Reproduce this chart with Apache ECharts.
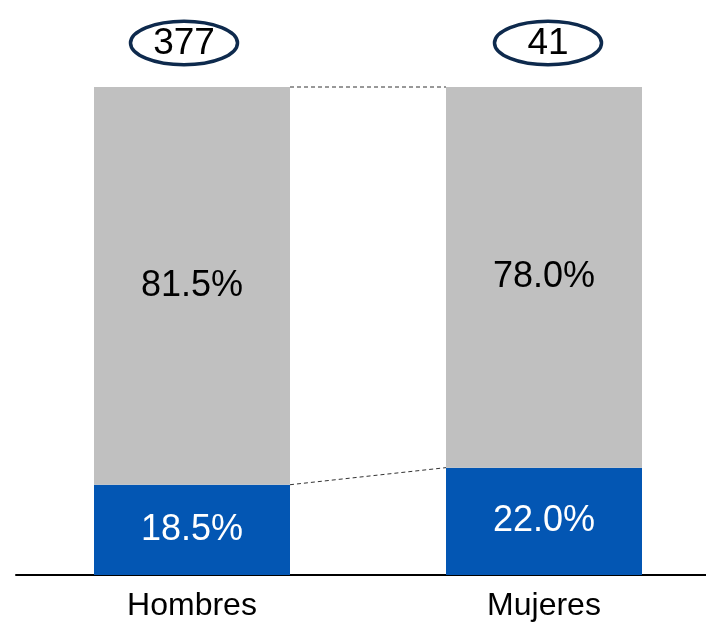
<!DOCTYPE html>
<html>
<head>
<meta charset="utf-8">
<script src="https://cdn.jsdelivr.net/npm/echarts@6/dist/echarts.min.js"></script>
<style>html,body{margin:0;padding:0;background:#fff;}#c{width:706px;height:623px;}</style>
</head>
<body>
<div id="c"></div>
<script>
const categories = ['Hombres', 'Mujeres'];
const bluePct = [18.5, 22.0];
const grayPct = [81.5, 78.0];
const totals = [377, 41];

const FONT = '"Liberation Sans", Arial, sans-serif';
const BAR_W = 196;
const ellipseDx = [-8, 4];

const chart = echarts.init(document.getElementById('c'), null, {renderer: 'canvas'});

const connectors = [];
for (let i = 0; i < categories.length - 1; i++) {
  connectors.push([i, bluePct[i], bluePct[i + 1]]);
  connectors.push([i, bluePct[i] + grayPct[i], bluePct[i + 1] + grayPct[i + 1]]);
}

chart.setOption({
  animation: false,
  backgroundColor: '#fff',
  grid: [
    {left: 192, right: 162, top: 87, bottom: 48, containLabel: false},
    {left: 16, right: 0, top: 87, bottom: 48, containLabel: false}
  ],
  xAxis: [
    {
      type: 'category', gridIndex: 0, data: categories, boundaryGap: false,
      axisLine: {show: false},
      axisTick: {show: false},
      splitLine: {show: false},
      axisLabel: {color: '#000', fontSize: 32, fontFamily: FONT, margin: 15}
    },
    {
      type: 'category', gridIndex: 1, data: categories,
      axisLine: {show: true, lineStyle: {color: '#000', width: 2}},
      axisTick: {show: false},
      axisLabel: {show: false},
      splitLine: {show: false}
    }
  ],
  yAxis: [
    {type: 'value', gridIndex: 0, min: 0, max: 100, show: false, splitLine: {show: false}},
    {type: 'value', gridIndex: 1, min: 0, max: 100, show: false, splitLine: {show: false}}
  ],
  series: [
    {
      type: 'bar', stack: 's', barWidth: BAR_W, data: bluePct,
      itemStyle: {color: '#0356b3'},
      label: {show: true, position: 'inside', color: '#fff', fontSize: 36, fontFamily: FONT,
        formatter: p => p.value.toFixed(1) + '%'}
    },
    {
      type: 'bar', stack: 's', barWidth: BAR_W, data: grayPct,
      itemStyle: {color: '#c0c0c0'},
      label: {show: true, position: 'inside', color: '#000', fontSize: 36, fontFamily: FONT,
        formatter: p => p.value.toFixed(1) + '%'}
    },
    {
      type: 'custom', data: connectors, z: 5,
      renderItem: function (params, api) {
        const i = api.value(0);
        const a = api.coord([i, api.value(1)]);
        const b = api.coord([i + 1, api.value(2)]);
        return {
          type: 'line',
          shape: {x1: a[0] + BAR_W / 2, y1: a[1], x2: b[0] - BAR_W / 2, y2: b[1]},
          style: {stroke: '#333', lineWidth: 1, lineDash: [4, 3]}
        };
      }
    },
    {
      type: 'custom', data: totals.map((t, i) => [i, 100, t]), z: 6,
      renderItem: function (params, api) {
        const i = api.value(0);
        const p = api.coord([i, api.value(1)]);
        const cx = p[0] + ellipseDx[i];
        const cy = p[1] - 44;
        return {
          type: 'group',
          children: [
            {type: 'ellipse', shape: {cx: cx, cy: cy, rx: 53.5, ry: 21.8},
              style: {fill: '#fff', stroke: '#0e2a4d', lineWidth: 3.5}},
            {type: 'text', style: {text: String(api.value(2)), x: cx, y: cy + 1,
              align: 'center', verticalAlign: 'middle', fontSize: 37, fontFamily: FONT, fill: '#000'}}
          ]
        };
      }
    }
  ]
});
</script>
</body>
</html>
